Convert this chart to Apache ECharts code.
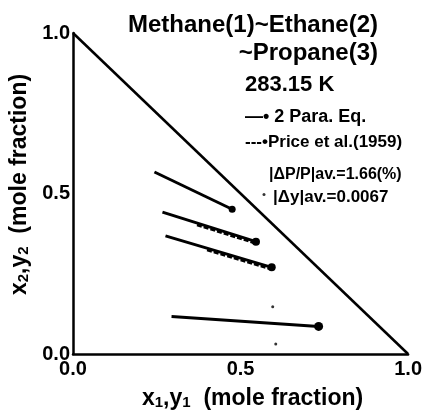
<!DOCTYPE html>
<html>
<head>
<meta charset="utf-8">
<script src="https://cdn.jsdelivr.net/npm/echarts@6/dist/echarts.min.js"></script>
<style>html,body{margin:0;padding:0;background:#fff}#c{width:425px;height:415px}</style>
</head>
<body>
<div id="c"></div>
<script>
// Tie lines: liquid (x1,x2) -> vapour (y1,y2), 2 Para. Eq.
var liquidX = [0.243, 0.267, 0.276, 0.294];
var liquidY = [0.567, 0.442, 0.368, 0.117];
var vaporX  = [0.475, 0.546, 0.593, 0.733];
var vaporY  = [0.451, 0.350, 0.270, 0.086];
var vaporDot = [7, 8, 8, 9];
// Price et al. (1959) visible dashed parts
var priceStartX = [0.37, 0.40];
var priceStartY = [0.402, 0.324];
var priceEndX   = [0.550, 0.595];
var priceEndY   = [0.343, 0.263];
// stray points
var strayX = [0.596, 0.605, 0.570];
var strayY = [0.147, 0.031, 0.497];
var tickLabels = ['0.0', '0.5', '1.0'];

var FONT = '"Liberation Sans", Arial, sans-serif';
var series = [];
series.push({
  type: 'line', data: [[0, 1], [1, 0]], symbol: 'none', clip: false,
  lineStyle: {color: '#000', width: 2.5}, z: 3
});
for (var i = 0; i < liquidX.length; i++) {
  series.push({
    type: 'line', symbol: 'circle', clip: false,
    data: [{value: [liquidX[i], liquidY[i]], symbolSize: 0},
           {value: [vaporX[i], vaporY[i]], symbolSize: vaporDot[i]}],
    lineStyle: {color: '#000', width: 3}, itemStyle: {color: '#000'}, z: 4
  });
}
for (var j = 0; j < priceStartX.length; j++) {
  series.push({
    type: 'line', symbol: 'none', clip: false,
    data: [[priceStartX[j], priceStartY[j]], [priceEndX[j], priceEndY[j]]],
    lineStyle: {color: '#000', width: 2.5, type: [5, 2]}, z: 4
  });
}
series.push({
  type: 'scatter', symbolSize: 3,
  data: strayX.map(function (v, k) { return [v, strayY[k]]; }),
  itemStyle: {color: '#000'}
});

function axisCommon() {
  return {
    type: 'value', min: 0, max: 1, interval: 0.5,
    axisLine: {show: true, lineStyle: {color: '#000', width: 2.5}},
    axisTick: {show: false}, splitLine: {show: false},
    axisLabel: {color: '#000', fontSize: 20, fontWeight: 'bold', fontFamily: FONT,
      formatter: function (v) { return tickLabels[Math.round(v * 2)]; }}
  };
}
var richSub = {s: {fontSize: 15, fontWeight: 'bold', fontFamily: FONT, verticalAlign: 'bottom', padding: [8, 0, 0, 0]}};
var xa = axisCommon();
xa.axisLabel.margin = 5;
xa.name = 'x{s|1},y{s|1}  (mole fraction)';
xa.nameLocation = 'middle';
xa.nameGap = 33;
xa.nameTextStyle = {color: '#000', fontSize: 23, fontWeight: 'bold', fontFamily: FONT, padding: [0, 0, 0, 24], rich: richSub};
var ya = axisCommon();
ya.axisLabel.margin = 3;
ya.name = 'x{s|2},y{s|2}  (mole fraction)';
ya.nameLocation = 'middle';
ya.nameGap = 38;
ya.nameTextStyle = {color: '#000', fontSize: 23, fontWeight: 'bold', fontFamily: FONT, padding: [0, 0, 0, 18], rich: richSub};

function txt(t, x, y, size, align) {
  return {type: 'text', x: x, y: y, z: 10,
    style: {text: t, font: 'bold ' + size + 'px ' + FONT, fill: '#000',
      textAlign: align || 'left', textVerticalAlign: 'middle'}};
}

var chart = echarts.init(document.getElementById('c'), null, {renderer: 'canvas'});
chart.setOption({
  animation: false,
  backgroundColor: '#fff',
  grid: {left: 73, right: 15, top: 33, bottom: 56, containLabel: false},
  xAxis: xa,
  yAxis: ya,
  series: series,
  graphic: [
    txt('Methane(1)~Ethane(2)', 378, 25, 24, 'right'),
    txt('~Propane(3)', 378, 53, 24, 'right'),
    txt('283.15 K', 245, 85, 22),
    txt('—• 2 Para. Eq.', 245, 117, 18),
    txt('---•Price et al.(1959)', 245, 142, 17),
    txt('|ΔP/P|av.=1.66(%)', 269, 175, 16),
    txt('|Δy|av.=0.0067', 273, 197, 17)
  ]
});
</script>
</body>
</html>
